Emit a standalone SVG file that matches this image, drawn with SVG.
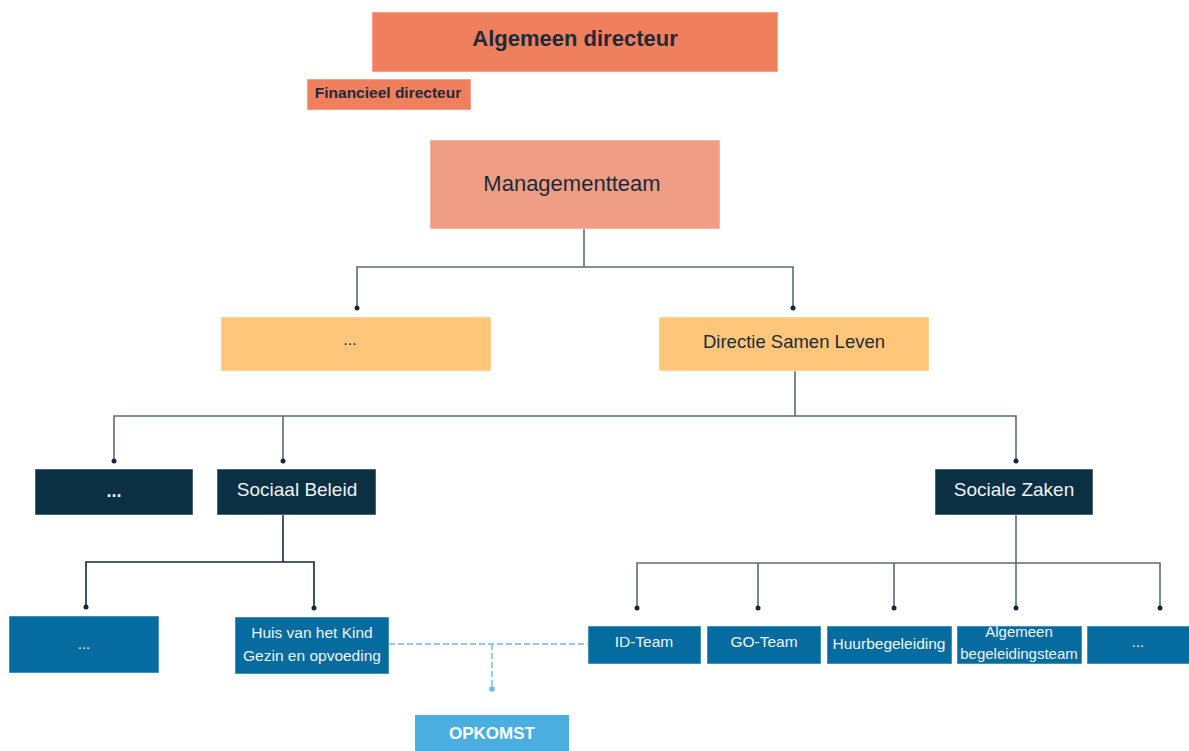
<svg xmlns="http://www.w3.org/2000/svg" width="1189" height="751" viewBox="0 0 1189 751">
<style>
text{font-family:"Liberation Sans",Arial,sans-serif;text-anchor:middle}
.dk{fill:#1c2b38}
.wt{fill:#eef3f6}
.c{fill:none;stroke:#5b6b78;stroke-width:1.6}
.cd{stroke:#14283a}
.dash{fill:none;stroke:#8ec9e8;stroke-width:1.8;stroke-dasharray:6 3}
.dot{fill:#14283a}
.box{stroke:#ffffff;stroke-opacity:0.5;stroke-width:1}
.or{fill:#f07f5e}
.sa{fill:#ef9e85}
.ye{fill:#fec67b}
.nv{fill:#0b2f43}
.bl{fill:#066c9f}
.lb{fill:#4baee0}
</style>
<g id="connectors">
<path class="c" d="M584 229V267M357 307V267H793V307"/>
<path class="c" d="M795 371V416M114 461V416H1016V461M283 416V461"/>
<path class="c cd" d="M283 514V562M86 607V562H314V607"/>
<path class="c" d="M1016 514V608M637 608V563H1160V608M758 563V608M894 563V608"/>
<circle class="dot" cx="357" cy="308" r="2.5"/>
<circle class="dot" cx="793" cy="308" r="2.5"/>
<circle class="dot" cx="114" cy="461" r="2.5"/>
<circle class="dot" cx="283" cy="461" r="2.5"/>
<circle class="dot" cx="1016" cy="461" r="2.5"/>
<circle class="dot" cx="86" cy="607" r="2.5"/>
<circle class="dot" cx="314" cy="608" r="2.5"/>
<circle class="dot" cx="637" cy="608" r="2.5"/>
<circle class="dot" cx="758" cy="608" r="2.5"/>
<circle class="dot" cx="894" cy="608" r="2.5"/>
<circle class="dot" cx="1016" cy="608" r="2.5"/>
<circle class="dot" cx="1160" cy="608" r="2.5"/>
<path class="dash" d="M389 644H588M492 644V688"/>
<circle cx="492" cy="689" r="2.8" fill="#6fb9e2"/>
</g>
<g id="algemeen-directeur"><rect class="box or" x="372" y="12" width="406" height="60"/><text class="dk" x="575" y="46" font-size="22" font-weight="bold">Algemeen directeur</text></g>
<g id="financieel-directeur"><rect class="box or" x="307" y="79" width="164" height="31"/><text class="dk" x="388" y="98" font-size="15.5" font-weight="bold">Financieel directeur</text></g>
<g id="managementteam"><rect class="box sa" x="430" y="140" width="290" height="89"/><text class="dk" x="572" y="191" font-size="22">Managementteam</text></g>
<g id="dots-1"><rect class="box ye" x="221" y="317" width="270" height="54"/><text class="dk" x="350" y="345" font-size="16">...</text></g>
<g id="directie-samen-leven"><rect class="box ye" x="659" y="317" width="270" height="54"/><text class="dk" x="794" y="348" font-size="18.5">Directie Samen Leven</text></g>
<g id="dots-2"><rect class="box nv" x="35" y="469" width="158" height="46"/><text class="wt" x="114" y="497" font-size="18" font-weight="bold">...</text></g>
<g id="sociaal-beleid"><rect class="box nv" x="217" y="469" width="159" height="46"/><text class="wt" x="297" y="496" font-size="19">Sociaal Beleid</text></g>
<g id="sociale-zaken"><rect class="box nv" x="935" y="469" width="158" height="46"/><text class="wt" x="1014" y="496" font-size="19">Sociale Zaken</text></g>
<g id="dots-3"><rect class="box bl" x="9" y="616" width="150" height="57"/><text class="wt" x="84" y="649" font-size="15">...</text></g>
<g id="huis-van-het-kind"><rect class="box bl" x="235" y="617" width="154" height="57"/><text class="wt" x="312" y="638" font-size="15.5">Huis van het Kind</text><text class="wt" x="312" y="661" font-size="15.5">Gezin en opvoeding</text></g>
<g id="id-team"><rect class="box bl" x="588" y="626" width="113" height="38"/><text class="wt" x="644" y="647" font-size="15.5">ID-Team</text></g>
<g id="go-team"><rect class="box bl" x="707" y="626" width="114" height="38"/><text class="wt" x="764" y="647" font-size="15.5">GO-Team</text></g>
<g id="huurbegeleiding"><rect class="box bl" x="827" y="626" width="125" height="38"/><text class="wt" x="889" y="649" font-size="15.5">Huurbegeleiding</text></g>
<g id="algemeen-begeleidingsteam"><rect class="box bl" x="957" y="626" width="125" height="38"/><text class="wt" x="1019" y="637" font-size="15">Algemeen</text><text class="wt" x="1019" y="659" font-size="15">begeleidingsteam</text></g>
<g id="dots-4"><rect class="box bl" x="1087" y="626" width="104" height="38"/><text class="wt" x="1138" y="647" font-size="15">...</text></g>
<g id="opkomst"><rect class="lb" x="415" y="715" width="154" height="40"/><text fill="#ffffff" x="492" y="739" font-size="17" font-weight="bold">OPKOMST</text></g>
</svg>
